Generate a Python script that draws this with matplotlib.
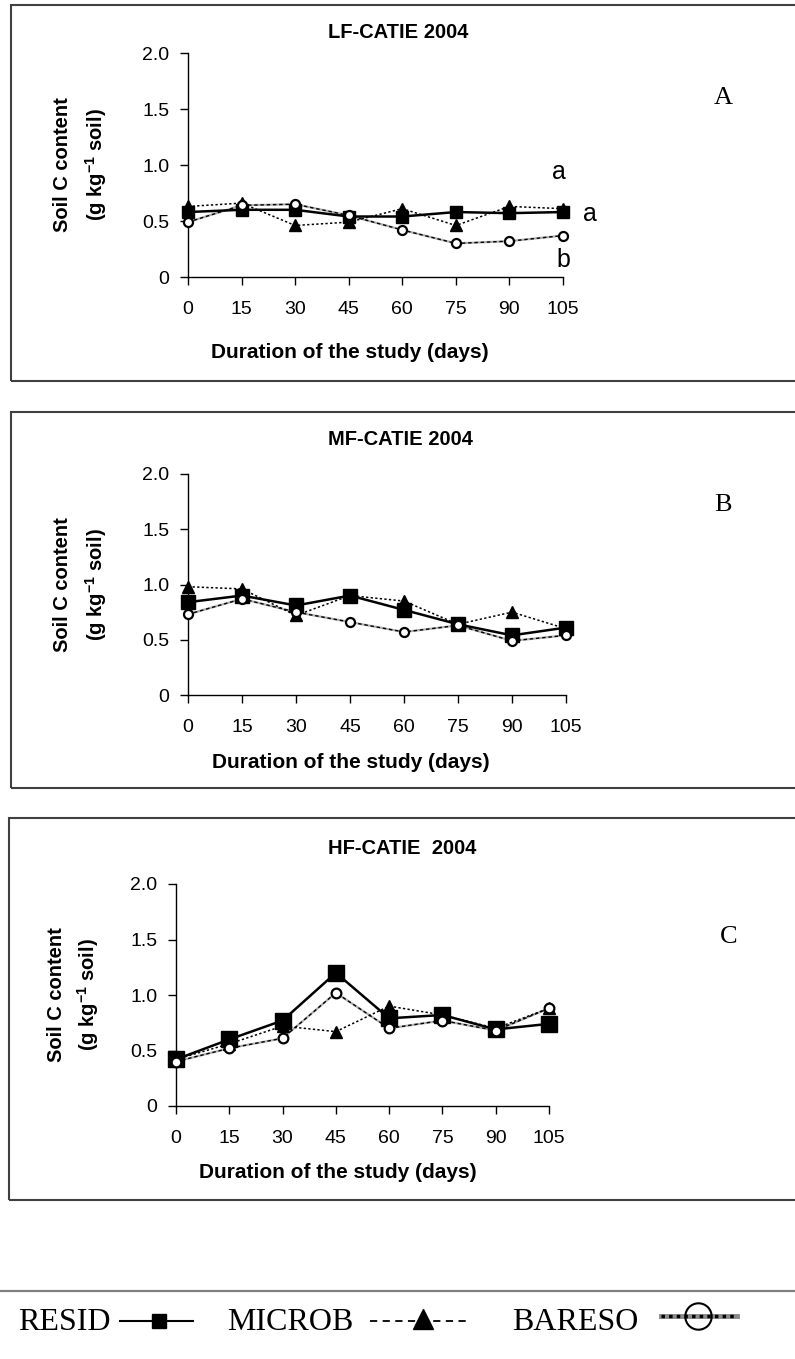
import matplotlib
matplotlib.use("Agg")
import matplotlib.pyplot as plt
from matplotlib.lines import Line2D
from matplotlib.patches import Rectangle

plt.rcParams['font.family'] = ['Liberation Sans', 'DejaVu Sans']
plt.rcParams['mathtext.fontset'] = 'custom'
plt.rcParams['mathtext.rm'] = 'Liberation Sans'
plt.rcParams['mathtext.default'] = 'regular'

# data (g C per kg soil)
days = [0, 15, 30, 45, 60, 75, 90, 105]
y_ticks = [0, 0.5, 1.0, 1.5, 2.0]
y_tick_labels = ['0', '0.5', '1.0', '1.5', '2.0']

lf_resid = [0.58, 0.60, 0.60, 0.54, 0.54, 0.58, 0.57, 0.58]
lf_microb = [0.63, 0.66, 0.46, 0.49, 0.61, 0.46, 0.63, 0.61]
lf_bareso = [0.49, 0.64, 0.65, 0.55, 0.42, 0.30, 0.32, 0.37]

mf_resid = [0.84, 0.90, 0.81, 0.90, 0.77, 0.64, 0.54, 0.61]
mf_microb = [0.98, 0.96, 0.72, 0.90, 0.85, 0.64, 0.75, 0.60]
mf_bareso = [0.73, 0.87, 0.75, 0.66, 0.57, 0.63, 0.49, 0.54]

hf_resid = [0.42, 0.60, 0.77, 1.20, 0.79, 0.82, 0.69, 0.74]
hf_microb = [0.42, 0.56, 0.72, 0.67, 0.90, 0.82, 0.70, 0.88]
hf_bareso = [0.40, 0.52, 0.61, 1.02, 0.70, 0.77, 0.68, 0.88]

titles = ['LF-CATIE 2004', 'MF-CATIE 2004', 'HF-CATIE  2004']
letters = ['A', 'B', 'C']
series_names = ['RESID', 'MICROB', 'BARESO']

W, H = 795, 1359
fig = plt.figure(figsize=(W / 100, H / 100), dpi=100)


def fx(x):
    return x / W


def fy(y):
    return 1 - y / H


def add_axes_px(l, t, r, b):
    return fig.add_axes([fx(l), fy(b), fx(r) - fx(l), fy(t) - fy(b)])


# panel layout in pixels: axes box, frame, text positions
panels = [
    dict(ax=(188, 53, 563, 277), frame=(11, 5, 381), title=(398, 33), letter=(723, 98),
         ylab=(62, 96), xlab=(350, 352), ms=(8, 9, 6.5)),
    dict(ax=(188, 474, 566, 695), frame=(11, 412, 788), title=(400, 440), letter=(723, 505),
         ylab=(63, 96), xlab=(351, 763), ms=(10.5, 9, 6.5)),
    dict(ax=(176, 884, 549, 1106), frame=(9, 818, 1200), title=(402, 849), letter=(729, 937),
         ylab=(56, 88), xlab=(338, 1173), ms=(11, 9, 7)),
]
data = [(lf_resid, lf_microb, lf_bareso),
        (mf_resid, mf_microb, mf_bareso),
        (hf_resid, hf_microb, hf_bareso)]

for i, p in enumerate(panels):
    l, t, r, b = p['ax']
    ax = add_axes_px(l, t, r, b)
    resid, microb, bareso = data[i]
    ms_sq, ms_tri, ms_ci = p['ms']

    # BARESO: grey hatched-looking line with open circles
    ax.plot(days, bareso, color='#b0b0b0', lw=1.6, zorder=2, clip_on=False)
    ax.plot(days, bareso, color='black', lw=1.0, ls=(0, (2.5, 2)), marker='o', ms=ms_ci,
            mfc='white', mec='black', mew=1.6, zorder=5, clip_on=False)
    # MICROB: dashed line with triangles
    ax.plot(days, microb, color='black', lw=1.1, ls=(0, (1.5, 1.5)), marker='^', ms=ms_tri,
            mfc='black', mec='black', zorder=4, clip_on=False)
    # RESID: solid line with squares
    ax.plot(days, resid, color='black', lw=1.8, ls='-', marker='s', ms=ms_sq,
            mfc='black', mec='black', zorder=3, clip_on=False)

    ax.set_xlim(0, 105)
    ax.set_ylim(0, 2.0)
    ax.set_xticks(days)
    ax.set_xticklabels([str(d) for d in days])
    ax.set_yticks(y_ticks)
    ax.set_yticklabels(y_tick_labels)
    ax.spines['top'].set_visible(False)
    ax.spines['right'].set_visible(False)
    for s in ['left', 'bottom']:
        ax.spines[s].set_linewidth(1.0)
    ax.tick_params(axis='both', direction='out', length=5.5, width=1.0, labelsize=14)
    ax.tick_params(axis='y', pad=8)
    ax.tick_params(axis='x', pad=12)

    # frame around each panel (runs off the right edge)
    fl, ft, fb = p['frame']
    fig.add_artist(Rectangle((fx(fl), fy(fb)), fx(W + 20) - fx(fl), fy(ft) - fy(fb),
                             transform=fig.transFigure, fill=False,
                             edgecolor='#404040', lw=1.5))

    fig.text(fx(p['title'][0]), fy(p['title'][1]), titles[i], ha='center', va='center',
             fontsize=14.5, fontweight='bold')
    fig.text(fx(p['letter'][0]), fy(p['letter'][1]), letters[i], ha='center', va='center',
             fontsize=19, family='Liberation Serif')
    yc = (t + b) / 2
    fig.text(fx(p['ylab'][0]), fy(yc), 'Soil C content', rotation=90, ha='center',
             va='center', fontsize=14.5, fontweight='bold')
    fig.text(fx(p['ylab'][1]), fy(yc), '(g kg$^{-1}$ soil)', rotation=90, ha='center',
             va='center', fontsize=14.5, fontweight='bold')
    fig.text(fx(p['xlab'][0]), fy(p['xlab'][1]), 'Duration of the study (days)',
             ha='center', va='center', fontsize=15, fontweight='bold')

    if i == 0:
        ax.text(104, 0.94, 'a', ha='center', va='center', fontsize=18, clip_on=False)
        ax.text(112.5, 0.56, 'a', ha='center', va='center', fontsize=18, clip_on=False)
        ax.text(105, 0.15, 'b', ha='center', va='center', fontsize=18, clip_on=False)

# legend strip at the bottom
fig.add_artist(Line2D([0, 1], [fy(1291), fy(1291)], transform=fig.transFigure,
                      color='#808080', lw=1.6))
ly = 1321
fig.text(fx(18), fy(1330), series_names[0], ha='left', va='baseline', fontsize=23,
         family='Liberation Serif')
fig.add_artist(Line2D([fx(120), fx(193)], [fy(ly), fy(ly)], transform=fig.transFigure,
                      color='black', lw=1.5))
fig.add_artist(Line2D([fx(159)], [fy(ly)], transform=fig.transFigure, marker='s',
                      ms=10.5, color='black'))
fig.text(fx(227), fy(1330), series_names[1], ha='left', va='baseline', fontsize=23,
         family='Liberation Serif')
fig.add_artist(Line2D([fx(370), fx(468)], [fy(ly), fy(ly)], transform=fig.transFigure,
                      color='black', lw=1.3, ls=(0, (4, 3))))
fig.add_artist(Line2D([fx(423)], [fy(ly - 2)], transform=fig.transFigure, marker='^',
                      ms=15, color='black'))
fig.text(fx(512), fy(1330), series_names[2], ha='left', va='baseline', fontsize=23,
         family='Liberation Serif')
fig.add_artist(Line2D([fx(661), fx(737)], [fy(ly - 5), fy(ly - 5)], transform=fig.transFigure,
                      color='#8a8a8a', lw=3.5))
fig.add_artist(Line2D([fx(661), fx(737)], [fy(ly - 5), fy(ly - 5)], transform=fig.transFigure,
                      color='black', lw=2.5, ls=(0, (1, 1.2))))
fig.add_artist(Line2D([fx(698)], [fy(ly - 5)], transform=fig.transFigure, marker='o',
                      ms=19, mfc='none', mec='black', mew=1.5))

fig.savefig('out.png', dpi=100)
